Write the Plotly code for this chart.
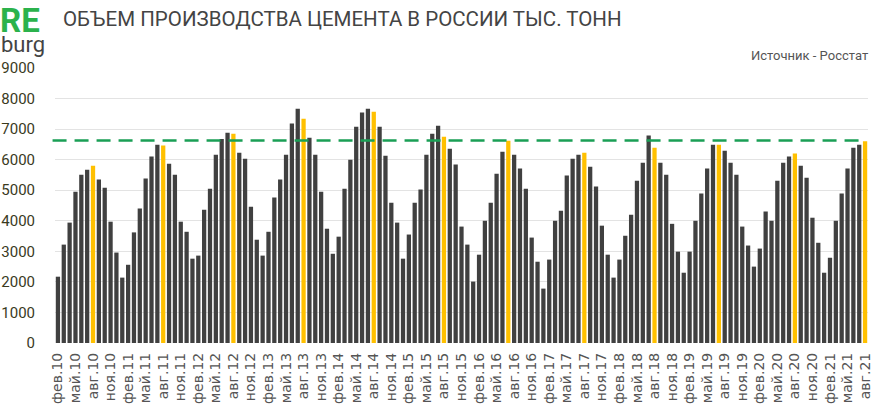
import plotly.graph_objects as go

# Monthly cement production, thousand tonnes (Feb 2010 .. Aug 2021)
y2010 = [2170, 3220, 3940, 4950, 5510, 5670, 5800, 5350, 5080, 3970, 2960]  # Feb-Dec
y2011 = [2140, 2560, 3620, 4400, 5380, 6100, 6490, 6460, 5870, 5510, 3970, 3640]
y2012 = [2760, 2860, 4360, 5050, 6160, 6680, 6880, 6850, 6230, 6030, 4460, 3380]
y2013 = [2860, 3640, 4760, 5350, 6160, 7180, 7670, 7340, 6720, 6160, 4950, 3740]
y2014 = [2920, 3480, 5050, 6000, 7080, 7540, 7670, 7570, 7080, 6130, 4590, 3940]
y2015 = [2760, 3550, 4590, 5020, 6160, 6850, 7110, 6750, 6360, 5840, 3810, 3220]
y2016 = [2010, 2890, 4000, 4590, 5540, 6260, 6620, 6160, 5710, 5050, 3450, 2660]
y2017 = [1780, 2730, 4000, 4330, 5480, 6030, 6160, 6230, 5770, 5120, 3840, 2890]
y2018 = [2140, 2730, 3510, 4200, 5310, 5900, 6790, 6390, 5900, 5510, 3900, 2990]
y2019 = [2300, 2990, 4000, 4890, 5710, 6490, 6490, 6290, 5900, 5510, 3810, 3190]
y2020 = [2500, 3090, 4300, 4000, 5310, 5900, 6100, 6200, 5800, 5410, 4100, 3280]
y2021 = [2300, 2790, 4000, 4890, 5710, 6390, 6490, 6600]  # Jan-Aug

# highlighted months (as drawn): (year, month index 1..12)
highlighted = [(2010, 8), (2011, 8), (2012, 8), (2013, 8), (2014, 8), (2015, 8),
               (2016, 7), (2017, 8), (2018, 8), (2019, 7), (2020, 8), (2021, 8)]

reference_level = 6630

month_abbr = ["янв", "фев", "мар", "апр", "май", "июн",
              "июл", "авг", "сен", "окт", "ноя", "дек"]
tick_months = [2, 5, 8, 11]

series = [(2010, y2010, 2), (2011, y2011, 1), (2012, y2012, 1), (2013, y2013, 1),
          (2014, y2014, 1), (2015, y2015, 1), (2016, y2016, 1), (2017, y2017, 1),
          (2018, y2018, 1), (2019, y2019, 1), (2020, y2020, 1), (2021, y2021, 1)]

values, cats, colors, tickvals, ticktext = [], [], [], [], []
for year, vals, start in series:
    for i, v in enumerate(vals):
        m = start + i
        lab = f"{month_abbr[m-1]}.{year % 100:02d}"
        cats.append(lab)
        values.append(v)
        colors.append("#FFC000" if (year, m) in highlighted else "#404040")
        if m in tick_months:
            tickvals.append(lab)
            ticktext.append(lab)

fig = go.Figure()
fig.add_trace(go.Bar(x=cats, y=values, marker=dict(color=colors, line=dict(width=0)),
                     hoverinfo="x+y"))

fig.add_shape(type="line", xref="paper", yref="y", x0=-0.003, x1=0.998,
              y0=reference_level, y1=reference_level,
              line=dict(color="#1A9F55", width=2.5, dash="14px,8px"))

fig.update_layout(
    width=879, height=410,
    margin=dict(l=55, r=11, t=68, b=67),
    paper_bgcolor="white", plot_bgcolor="white",
    bargap=0.27, showlegend=False,
    font=dict(family="Roboto, sans-serif"),
)
fig.update_xaxes(type="category", tickmode="array", tickvals=tickvals, ticktext=ticktext,
                 tickangle=-90, tickfont=dict(size=14, color="#555555", family="DejaVu Sans"),
                 showgrid=False, showline=False, ticks="", ticklabelstandoff=6,
                 automargin=False)
fig.update_yaxes(range=[0, 9000], dtick=1000, tickformat="d",
                 showgrid=True, gridcolor="#E3E3E3", gridwidth=1, zeroline=False,
                 tickfont=dict(size=15, color="#3A3A1E", family="Roboto"),
                 ticklabelstandoff=19, automargin=False)

PH = 275.0  # plot height in px
PW = 813.0  # plot width in px

def py(px_from_top):
    return 1 + (68 - px_from_top) / PH

def pxx(px_from_left):
    return (px_from_left - 55) / PW

# logo and title
fig.add_annotation(xref="paper", yref="paper", x=pxx(-1), y=py(0), xanchor="left", yanchor="top",
                   text="<b>RE</b>", showarrow=False, borderpad=0,
                   font=dict(size=33, color="#2BB24C", family="Roboto"))
fig.add_annotation(xref="paper", yref="paper", x=pxx(0), y=py(31), xanchor="left", yanchor="top",
                   text="burg", showarrow=False, borderpad=0,
                   font=dict(size=22, color="#444444", family="Roboto"))
fig.add_annotation(xref="paper", yref="paper", x=pxx(61), y=py(5), xanchor="left", yanchor="top",
                   text="ОБЪЕМ ПРОИЗВОДСТВА ЦЕМЕНТА В РОССИИ ТЫС. ТОНН", showarrow=False,
                   font=dict(size=20.5, color="#444444", family="Roboto"))
fig.add_annotation(xref="paper", yref="paper", x=pxx(870), y=py(46), xanchor="right", yanchor="top",
                   text="Источник - Росстат", showarrow=False,
                   font=dict(size=13, color="#555555", family="Roboto"))

fig.write_html("out.html")
